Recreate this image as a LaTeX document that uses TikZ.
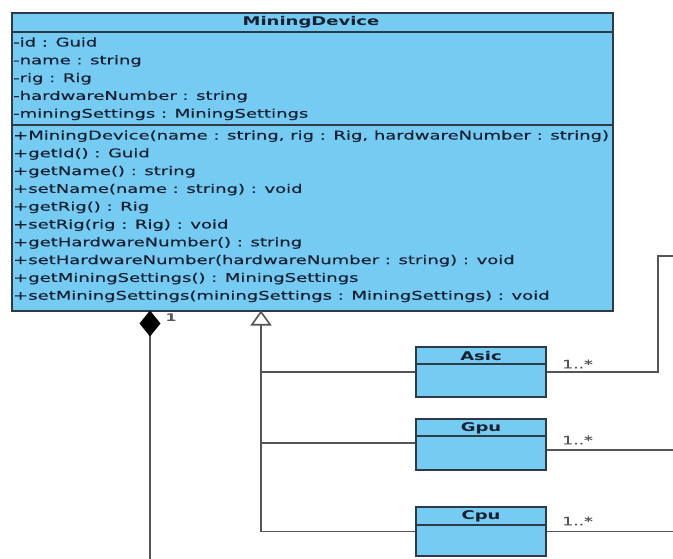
\documentclass[tikz,border=0pt]{standalone}
\usepackage{fontspec}
\setmainfont{DejaVu Sans}[FakeStretch=1.5, UprightFeatures={FakeBold=0.35}]
\usetikzlibrary{arrows.meta,calc}
\definecolor{clsfill}{RGB}{117,203,242}
\definecolor{clsline}{RGB}{45,58,72}
\definecolor{txt}{RGB}{22,32,50}
\definecolor{conn}{RGB}{85,85,85}
\tikzset{
  clsbox/.style={draw=clsline, fill=clsfill, line width=1.6pt, inner sep=0pt},
  sepline/.style={draw=clsline, line width=1.5pt},
  mem/.style={anchor=base west, inner sep=0pt, text=txt, font=\fontsize{12pt}{14pt}\selectfont},
  ttl/.style={inner sep=0pt, text=txt, font=\fontsize{12pt}{14pt}\selectfont\bfseries},
  conline/.style={draw=conn, line width=1.6pt},
  mult/.style={inner sep=0pt, text=conn, font=\fontsize{11.5pt}{13pt}\selectfont},
}
\begin{document}
\begin{tikzpicture}[x=1pt,y=-1pt]
\useasboundingbox (0,0) rectangle (673,558);
% main class
\node[clsbox, anchor=north west, minimum width=601pt, minimum height=298pt] (md) at (11,12) {};
\node[ttl] (mdt) at (311,22) {MiningDevice};
\draw[sepline] ([yshift=-20pt]md.north west) -- ([yshift=-20pt]md.north east);
\draw[sepline] ([yshift=-113pt]md.north west) -- ([yshift=-113pt]md.north east);
\node[mem] (a1) at (13,46.5) {-id : Guid};
\node[mem] (a2) at (13,64.3) {-name : string};
\node[mem] (a3) at (13,82.1) {-rig : Rig};
\node[mem] (a4) at (13,99.9) {-hardwareNumber : string};
\node[mem] (a5) at (13,117.7) {-miningSettings : MiningSettings};
\node[mem] (m1) at (13,139.5) {+MiningDevice(name : string, rig : Rig, hardwareNumber : string)};
\node[mem] (m2) at (13,157.3) {+getId() : Guid};
\node[mem] (m3) at (13,175.1) {+getName() : string};
\node[mem] (m4) at (13,192.9) {+setName(name : string) : void};
\node[mem] (m5) at (13,210.7) {+getRig() : Rig};
\node[mem] (m6) at (13,228.5) {+setRig(rig : Rig) : void};
\node[mem] (m7) at (13,246.3) {+getHardwareNumber() : string};
\node[mem] (m8) at (13,264.1) {+setHardwareNumber(hardwareNumber : string) : void};
\node[mem] (m9) at (13,281.9) {+getMiningSettings() : MiningSettings};
\node[mem] (m10) at (13,299.7) {+setMiningSettings(miningSettings : MiningSettings) : void};
% subclasses
\node[clsbox, minimum width=130pt, minimum height=50pt] (asic) at (481,372) {};
\node[ttl] (asict) at (481,356) {Asic};
\draw[sepline] ([yshift=-18pt]asic.north west) -- ([yshift=-18pt]asic.north east);
\node[clsbox, minimum width=130pt, minimum height=51pt] (gpu) at (481,444.5) {};
\node[ttl] (gput) at (481,428) {Gpu};
\draw[sepline] ([yshift=-18pt]gpu.north west) -- ([yshift=-18pt]gpu.north east);
\node[clsbox, minimum width=130pt, minimum height=49pt] (cpu) at (481,531.5) {};
\node[ttl] (cput) at (481,516) {Cpu};
\draw[sepline] ([yshift=-19pt]cpu.north west) -- ([yshift=-19pt]cpu.north east);
% composition
\coordinate (dtop) at (150,310.5);
\coordinate (dbot) at (150,560);
\draw[conline, {Diamond[length=26pt,width=21pt,fill=black,color=black]}-] (dtop) -- (dbot);
\node[inner sep=0pt, text=conn, font=\fontsize{10.5pt}{12pt}\selectfont\bfseries] (one) at (171,318) {1};
% generalization
\coordinate (gtop) at (261,310.5);
\draw[conline, -{Triangle[open,length=15pt,width=21pt,fill=white]}] (cpu.west) -| (gtop);
\draw[conline] (asic.west) -- (asic.west -| gtop);
\draw[conline] ([yshift=1.5pt]gpu.west) -- ([yshift=1.5pt]gpu.west -| gtop);
% associations to the right
\coordinate (acorner) at (658,256);
\coordinate (aend) at (674,256);
\coordinate (gend) at (674,450);
\coordinate (cend) at (674,531.5);
\draw[conline] (asic.east) -| (acorner) -- (aend);
\draw[conline] ([yshift=-5.5pt]gpu.east) -- (gend);
\draw[conline] (cpu.east) -- (cend);
\node[mult, anchor=west] (ma) at (562,364) {1..*};
\node[mult, anchor=west] (mg) at (562,440) {1..*};
\node[mult, anchor=west] (mc) at (562,521) {1..*};
\end{tikzpicture}
\end{document}
